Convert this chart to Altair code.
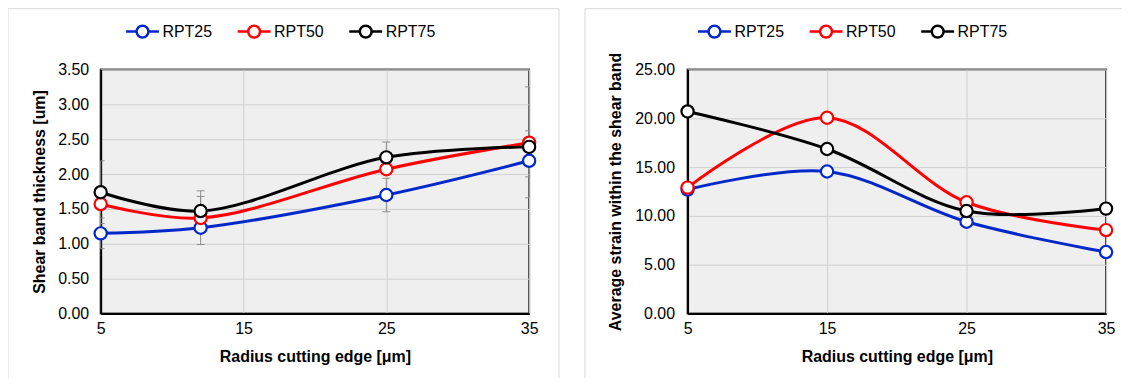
import altair as alt
import pandas as pd

series = ["RPT25", "RPT50", "RPT75"]
colors = ["#0028c8", "#ff0000", "#000000"]

# Left chart: shear band thickness
radius_left = [5, 12, 25, 35]
thick_rpt25 = [1.15, 1.23, 1.70, 2.19]
thick_rpt50 = [1.57, 1.37, 2.07, 2.45]
thick_rpt75 = [1.74, 1.47, 2.24, 2.39]

# Error bars (left chart)
err_x = [5, 5, 12, 12, 25, 25, 35, 35, 35]
err_lo = [1.29, 0.93, 0.99, 1.26, 2.02, 1.46, 1.66, 1.96, 2.18]
err_hi = [2.19, 1.37, 1.76, 1.68, 2.46, 1.94, 3.25, 2.42, 2.62]

# Right chart: average strain
radius_right = [5, 15, 25, 35]
strain_rpt25 = [12.70, 14.55, 9.40, 6.30]
strain_rpt50 = [12.90, 20.05, 11.40, 8.55]
strain_rpt75 = [20.70, 16.85, 10.50, 10.75]

x_ticks = [5, 15, 25, 35]
y_ticks_left = [0, 0.5, 1.0, 1.5, 2.0, 2.5, 3.0, 3.5]
y_ticks_right = [0, 5, 10, 15, 20, 25]

FONT = "Liberation Sans"
LEGEND_PATH = ("M-1,0L-0.36,0M0.36,0L1,0M0.36,0A0.36,0.36,0,1,1,-0.36,0"
               "A0.36,0.36,0,1,1,0.36,0Z")


def long_df(xs, ys_list):
    rows = []
    for s, ys in zip(series, ys_list):
        for x, y in zip(xs, ys):
            rows.append({"radius": x, "value": y, "series": s})
    return pd.DataFrame(rows)


def panel(df, err_df, ymax, yvals, ytitle, width, height, legend_x,
          frame_left, frame_right, right_edge, ylab_pad, ytitle_pad):
    xscale = alt.Scale(domain=[5, 35], nice=False, zero=False)
    xaxis = alt.Axis(values=x_ticks, title="Radius cutting edge [μm]",
                     labelPadding=7, titlePadding=12, grid=True,
                     labelOverlap=False)
    yscale = alt.Scale(domain=[0, ymax], nice=False)
    yaxis = alt.Axis(values=yvals, format=".2f", title=ytitle,
                     labelPadding=ylab_pad, titlePadding=ytitle_pad,
                     grid=True, labelOverlap=False)
    xenc = alt.X("radius:Q", scale=xscale, axis=xaxis)
    yenc = alt.Y("value:Q", scale=yscale, axis=yaxis)
    cscale = alt.Scale(domain=series, range=colors)
    legend = alt.Legend(
        title=None, orient="none", legendX=legend_x, legendY=-56,
        direction="horizontal", symbolType=LEGEND_PATH, symbolSize=1089,
        symbolStrokeWidth=2.5, symbolFillColor="white",
        labelFont=FONT, labelFontSize=16, labelColor="black", labelOffset=2,
        columnPadding=20, symbolOpacity=1)
    color = alt.Color("series:N", scale=cscale, legend=legend)
    dummy = pd.DataFrame({"k": [0]})

    layers = []
    # data layers first so the axes come from them
    base = alt.Chart(df)
    if err_df is not None:
        eb = alt.Chart(err_df)
        layers.append(eb.mark_rule(color="#8c8c8c", strokeWidth=1).encode(
            x=xenc, y=alt.Y("lo:Q", scale=yscale, axis=yaxis), y2="hi:Q"))
        layers.append(eb.mark_rule(color="#8c8c8c", strokeWidth=1, xOffset=-4,
                                   x2Offset=4, clip=True).encode(
            x=xenc, x2="radius:Q", y=alt.Y("lo:Q", scale=yscale, axis=yaxis)))
        layers.append(eb.mark_rule(color="#8c8c8c", strokeWidth=1, xOffset=-4,
                                   x2Offset=4, clip=True).encode(
            x=xenc, x2="radius:Q", y=alt.Y("hi:Q", scale=yscale, axis=yaxis)))

    for s in series:
        sub = base.transform_filter(alt.datum.series == s)
        layers.append(sub.mark_line(strokeWidth=3, interpolate="catmull-rom").encode(
            x=xenc, y=yenc, color=color))
        layers.append(sub.mark_point(filled=False, fill="white", fillOpacity=1,
                                     opacity=1, size=150, strokeWidth=2.2).encode(
            x=xenc, y=yenc, color=color))

    # panel frame
    layers.append(alt.Chart(dummy).mark_rule(color="#d9d9d9", strokeWidth=1).encode(
        x=alt.value(frame_left), y=alt.value(-61), y2=alt.value(310)))
    layers.append(alt.Chart(dummy).mark_rule(color="#d9d9d9", strokeWidth=1).encode(
        x=alt.value(frame_left), x2=alt.value(frame_right), y=alt.value(-61)))
    if right_edge:
        layers.append(alt.Chart(dummy).mark_rule(color="#d9d9d9", strokeWidth=1).encode(
            x=alt.value(frame_right), y=alt.value(-61), y2=alt.value(310)))
    return alt.layer(*layers).properties(width=width, height=height)


left_df = long_df(radius_left, [thick_rpt25, thick_rpt50, thick_rpt75])
err_df = pd.DataFrame({"radius": err_x, "lo": err_lo, "hi": err_hi})
right_df = long_df(radius_right, [strain_rpt25, strain_rpt50, strain_rpt75])

left = panel(left_df, err_df, 3.5, y_ticks_left, "Shear band thickness [um]",
             430, 245, 24, -93, 460, True, 12, 10)
right = panel(right_df, None, 25, y_ticks_right,
              "Average strain within the shear band",
              420, 245, 9, -103, 436, False, 13, 11)

chart = alt.hconcat(left, right, spacing=22).resolve_scale(
    x="independent", y="independent", color="independent"
).resolve_legend(color="independent").properties(
    padding={"left": -2, "top": -2, "right": 0, "bottom": 0}
).configure_axis(
    labelFont=FONT, labelFontSize=16, labelColor="black",
    titleFont=FONT, titleFontSize=16, titleFontWeight="bold", titleColor="black",
    gridColor="#d0d0d0", gridWidth=1, domainColor="black", domainWidth=2,
    ticks=False, labelFlush=False
).configure_view(fill="#efefef", stroke="#404040", strokeWidth=2)

chart.save("out.html", embed_options={"renderer": "svg", "actions": False})
